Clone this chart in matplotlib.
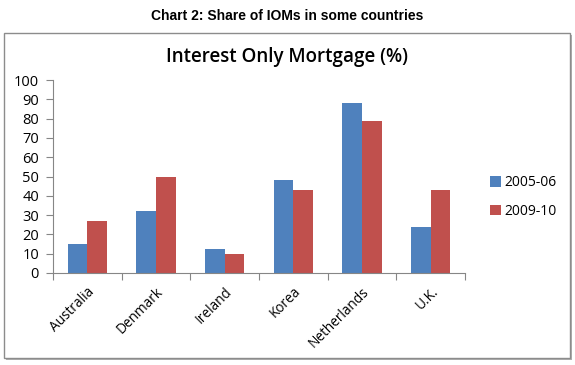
import numpy as np
import matplotlib
matplotlib.use("Agg")
import matplotlib.pyplot as plt
from matplotlib.patches import Rectangle

countries = ["Australia", "Denmark", "Ireland", "Korea", "Netherlands", "U.K."]
share_0506 = [15, 32, 12.5, 48, 88, 24]
share_0910 = [27, 50, 10, 43, 79, 43]
series_names = ["2005-06", "2009-10"]

plt.rcParams['font.family'] = ['Open Sans', 'DejaVu Sans']

fig = plt.figure(figsize=(5.75, 3.65), dpi=100)
fig.patch.set_facecolor("white")

# outer chart frame (with a little shadow)
fig.patches.append(Rectangle((6 / 575, 1 - 360 / 365), 566 / 575, 325 / 365,
                             transform=fig.transFigure, facecolor="#b0b0b0",
                             edgecolor="none", zorder=-10))
fig.patches.append(Rectangle((4 / 575, 1 - 358 / 365), 566 / 575, 325 / 365,
                             transform=fig.transFigure, facecolor="white",
                             edgecolor="#8c8c8c", linewidth=1, zorder=-9))

fig.text(0.5, 1 - 16 / 365, "Chart 2: Share of IOMs in some countries",
         ha="center", va="center", fontsize=10, fontweight="bold",
         family=["Liberation Sans", "DejaVu Sans"])

ax = fig.add_axes([53 / 575, 1 - 273 / 365, 412 / 575, 193 / 365])
ax.set_facecolor("none")

x = np.arange(len(countries))
w = 0.285
ax.bar(x - w / 2, share_0506, w, color="#4F81BD", label=series_names[0])
ax.bar(x + w / 2, share_0910, w, color="#C0504D", label=series_names[1])

ax.set_xlim(-0.5, len(countries) - 0.5)
ax.set_ylim(0, 100)
ax.set_yticks(range(0, 101, 10))
ax.tick_params(axis="y", labelsize=10.5, length=5, color="#868686", pad=5)

ax.set_xticks(np.arange(-0.5, len(countries), 1.0))
ax.set_xticklabels([])
ax.set_xticks(x, minor=True)
ax.set_xticklabels(countries, minor=True, rotation=45, ha="right",
                   rotation_mode="anchor", fontsize=9.8)
ax.tick_params(axis="x", which="major", length=5, color="#868686")
ax.tick_params(axis="x", which="minor", length=0, pad=8)

for s in ["top", "right"]:
    ax.spines[s].set_visible(False)
for s in ["left", "bottom"]:
    ax.spines[s].set_color("#868686")

fig.text(287 / 575, 1 - 57 / 365, "Interest Only Mortgage (%)", ha="center",
         va="center", fontsize=13.5, fontweight="semibold")

ax.legend(loc="center left", bbox_to_anchor=(477 / 575, 1 - 197 / 365),
          bbox_transform=fig.transFigure, frameon=False, fontsize=10,
          handlelength=0.8, handleheight=0.8, handletextpad=0.3,
          labelspacing=1.0)

fig.savefig("out.png", dpi=100)
